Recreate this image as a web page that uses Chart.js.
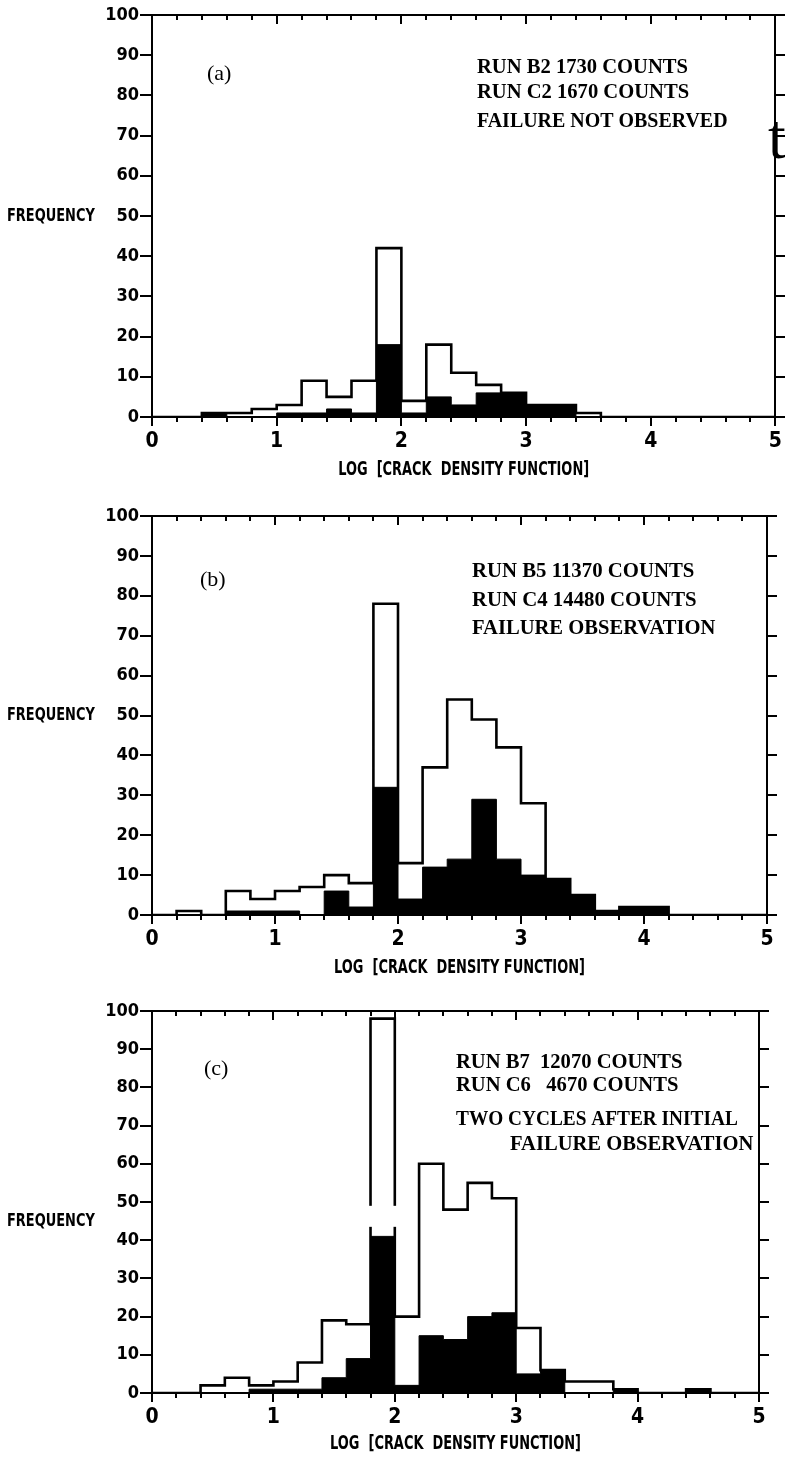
<!DOCTYPE html>
<html><head><meta charset="utf-8">
<script src="https://cdn.jsdelivr.net/npm/chart.js@4.4.1/dist/chart.umd.min.js"></script>
<style>
html,body{margin:0;padding:0;background:#fff;width:785px;height:1467px;overflow:hidden}
.p{position:absolute;left:0;width:785px}
</style></head><body>
<div class="p" style="top:0;height:490px"><canvas id="ca"></canvas></div>
<div class="p" style="top:490px;height:500px"><canvas id="cb"></canvas></div>
<div class="p" style="top:990px;height:477px"><canvas id="cc"></canvas></div>
<script>
// ---- data ----
const binEdges = [0,0.2,0.4,0.6,0.8,1.0,1.2,1.4,1.6,1.8,2.0,2.2,2.4,2.6,2.8,3.0,3.2,3.4,3.6,3.8,4.0,4.2,4.4,4.6,4.8];
const xMajorTicks = [0,1,2,3,4,5];
const xMinorTicks = [0,0.2,0.4,0.6,0.8,1,1.2,1.4,1.6,1.8,2,2.2,2.4,2.6,2.8,3,3.2,3.4,3.6,3.8,4,4.2,4.4,4.6,4.8,5];
const yTicks = [0,10,20,30,40,50,60,70,80,90,100];

// panel (a)
const aOutline = [0,0,1,1,2,3,9,5,9,42,4,18,11,8,6,3,3,1,0,0,0,0,0,0,0];
const aSolid   = [0,0,1,0,0,1,1,2,1,18,1,5,3,6,6,3,3,0,0,0,0,0,0,0,0];
// panel (b)
const bOutline = [0,1,0,6,4,6,7,10,8,78,13,37,54,49,42,28,9,5,1,2,2,0,0,0,0];
const bSolid   = [0,0,0,1,1,1,0,6,2,32,4,12,14,29,14,10,9,5,1,2,2,0,0,0,0];
// panel (c)
const cOutline = [0,0,2,4,2,3,8,19,18,98,20,60,48,55,51,17,6,3,3,1,0,0,1,0,0];
const cSolid   = [0,0,0,0,1,1,1,4,9,41,2,15,14,20,21,5,6,0,0,1,0,0,1,0,0];
// interrupted sides of the tall (c) bar: bin edges and value range of the gap
const cBreakEdges = [1.8, 2.0];
const cBreakRange = [43.5, 49];

const aText = ['RUN B2 1730 COUNTS','RUN C2 1670 COUNTS','FAILURE NOT OBSERVED'];
const bText = ['RUN B5 11370 COUNTS','RUN C4 14480 COUNTS','FAILURE OBSERVATION'];
const cText = ['RUN B7  12070 COUNTS','RUN C6   4670 COUNTS','TWO CYCLES AFTER INITIAL','FAILURE OBSERVATION'];
const xTitle = 'LOG  [CRACK  DENSITY FUNCTION]';
const yTitle = 'FREQUENCY';

const X_MIN = 0, X_MAX = 5, Y_MIN = 0, Y_MAX = 100;
const NARROW = '"Liberation Sans Narrow","Arial Narrow","DejaVu Sans Condensed",sans-serif';
const SERIF = '"Liberation Serif","Times New Roman",serif';

function steps(vals){
  const pts = binEdges.map((e,i)=>({x:e,y:vals[i]}));
  pts.push({x:X_MAX,y:0});
  return pts;
}

function squeezedText(ctx, text, x, y, sx, align){
  ctx.save();
  ctx.translate(x, y);
  ctx.scale(sx, 1);
  ctx.textAlign = align;
  ctx.fillText(text, 0, 0);
  ctx.restore();
}

const breakPlugin = {
  id:'brk',
  afterDatasetsDraw(chart){
    const b = chart.options.plugins.brk;
    if (!b || !b.edges) return;
    const xs = chart.scales.x, ys = chart.scales.y, ctx = chart.ctx;
    const y1 = ys.getPixelForValue(b.range[1]), y0 = ys.getPixelForValue(b.range[0]);
    ctx.save();
    ctx.fillStyle = '#fff';
    b.edges.forEach(e => { const px = xs.getPixelForValue(e); ctx.fillRect(px - 3, y1, 6, y0 - y1); });
    ctx.restore();
  }
};

const textPlugin = {
  id:'txt',
  afterDraw(chart){
    const g = chart.options.plugins.txt;
    const ctx = chart.ctx;
    const ca = chart.chartArea;
    ctx.save();
    ctx.fillStyle = '#000';
    ctx.font = 'bold 18px ' + NARROW;
    ctx.textBaseline = 'middle';
    squeezedText(ctx, yTitle, 7, chart.scales.y.getPixelForValue(g.freqVal), 0.8, 'left');
    ctx.font = 'bold 20px ' + NARROW;
    squeezedText(ctx, xTitle, (ca.left + ca.right) / 2, ca.bottom + g.titleOff, 0.72, 'center');
    ctx.font = '22px ' + SERIF;
    ctx.textAlign = 'left';
    ctx.fillText(g.letter, g.letterX, g.letterY);
    ctx.font = 'bold 21px ' + SERIF;
    ctx.textBaseline = 'alphabetic';
    g.lines.forEach((t,i)=>{ squeezedText(ctx, t, g.lineX[i], g.lineY[i], g.lineSx[i], 'left'); });
    if (g.extra) { ctx.font = g.extra.font; ctx.fillText(g.extra.text, g.extra.x, g.extra.y); }
    ctx.restore();
  }
};

function makePanel(id, outline, solid, g, brk){
  const tickFont = {family:NARROW, size:18, weight:'bold'};
  return new Chart(document.getElementById(id), {
    type:'line',
    data:{datasets:[
      {label:'outline', data:steps(outline), stepped:'before', borderColor:'#000', borderWidth:2.6,
       pointRadius:0, fill:false, order:0, xAxisID:'x', yAxisID:'y'},
      {label:'solid', data:steps(solid), stepped:'before', borderColor:'#000', borderWidth:1,
       backgroundColor:'#000', pointRadius:0, fill:'origin', order:1, xAxisID:'x', yAxisID:'y'}
    ]},
    options:{
      responsive:true, maintainAspectRatio:false, animation:false, devicePixelRatio:1,
      layout:{padding:{top:g.padTop,left:0,right:0,bottom:0}},
      plugins:{legend:{display:false}, tooltip:{enabled:false}, txt:g, brk:brk || {}},
      scales:{
        x:{type:'linear', position:'bottom', min:X_MIN, max:X_MAX, weight:1,
           afterBuildTicks:s=>{s.ticks = xMajorTicks.map(v=>({value:v}));},
           ticks:{color:'#000', font:{family:NARROW,size:21,weight:'bold'}, padding:g.xLabPad, autoSkip:false, maxRotation:0,
                  callback:v=>String(v)},
           grid:{drawOnChartArea:false, drawTicks:true, tickLength:9, color:'#000', lineWidth:2},
           border:{display:true, color:'#000', width:2},
           afterFit:s=>{s.height = g.xH;}},
        xm:{type:'linear', position:'bottom', min:X_MIN, max:X_MAX, weight:0,
           afterBuildTicks:s=>{s.ticks = xMinorTicks.map(v=>({value:v}));},
           ticks:{display:false},
           grid:{drawOnChartArea:false, drawTicks:true, tickLength:5, color:'#000', lineWidth:2},
           border:{display:false}, afterFit:s=>{s.height = 0;}},
        xt:{type:'linear', position:'top', min:X_MIN, max:X_MAX, weight:0,
           afterBuildTicks:s=>{s.ticks = xMajorTicks.map(v=>({value:v}));},
           ticks:{display:false},
           grid:{drawOnChartArea:false, drawTicks:true, tickLength:-9, color:'#000', lineWidth:2},
           border:{display:true, color:'#000', width:2}, afterFit:s=>{s.height = 0;}},
        xtm:{type:'linear', position:'top', min:X_MIN, max:X_MAX, weight:1,
           afterBuildTicks:s=>{s.ticks = xMinorTicks.map(v=>({value:v}));},
           ticks:{display:false},
           grid:{drawOnChartArea:false, drawTicks:true, tickLength:-5, color:'#000', lineWidth:2},
           border:{display:false}, afterFit:s=>{s.height = 0;}},
        y:{type:'linear', position:'left', min:Y_MIN, max:Y_MAX,
           afterBuildTicks:s=>{s.ticks = yTicks.map(v=>({value:v}));},
           ticks:{color:'#000', font:tickFont, padding:1, autoSkip:false},
           grid:{drawOnChartArea:false, drawTicks:true, tickLength:12, color:'#000', lineWidth:2},
           border:{display:true, color:'#000', width:2},
           afterFit:s=>{s.width = 152;}},
        y2:{type:'linear', position:'right', min:Y_MIN, max:Y_MAX,
           afterBuildTicks:s=>{s.ticks = yTicks.map(v=>({value:v}));},
           ticks:{display:false},
           grid:{drawOnChartArea:false, drawTicks:true, tickLength:10, color:'#000', lineWidth:2},
           border:{display:true, color:'#000', width:2},
           afterFit:s=>{s.width = g.y2W;}}
      }
    },
    plugins:[breakPlugin, textPlugin]
  });
}

makePanel('ca', aOutline, aSolid, {
  padTop:15, xH:73, xLabPad:3, titleOff:53, y2W:8, freqVal:50,
  letter:'(a)', letterX:207, letterY:74,
  lines:aText, lineX:[477,477,477], lineY:[73,98,127], lineSx:[0.98,0.98,0.95],
  extra:{text:'t', font:'64px ' + SERIF, x:768, y:158}
});
makePanel('cb', bOutline, bSolid, {
  padTop:26, xH:75, xLabPad:3, titleOff:53, y2W:18, freqVal:50,
  letter:'(b)', letterX:200, letterY:90,
  lines:bText, lineX:[472,472,472], lineY:[87,116,144], lineSx:[0.99,0.99,0.98]
});
makePanel('cc', cOutline, cSolid, {
  padTop:21, xH:74, xLabPad:3, titleOff:51, y2W:26, freqVal:45,
  letter:'(c)', letterX:204, letterY:79,
  lines:cText, lineX:[456,456,456,510], lineY:[78,101,135,160], lineSx:[0.98,0.98,0.92,0.98]
}, {edges:cBreakEdges, range:cBreakRange});
</script>
</body></html>
